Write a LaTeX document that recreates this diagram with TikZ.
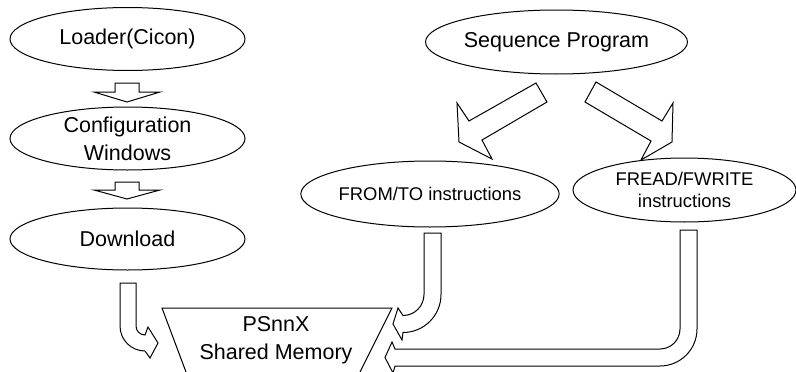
\documentclass[tikz,border=0pt]{standalone}
\usepackage{fontspec}
\setmainfont{Liberation Sans}
\usetikzlibrary{shapes.geometric}
\begin{document}
\begin{tikzpicture}[x=1pt,y=-1pt,
  ell/.style={draw=black, line width=1pt, ellipse, inner sep=0pt, align=center},
  big/.style={font=\fontsize{21.5}{28}\selectfont},
  small/.style={font=\fontsize{18.4}{22}\selectfont},
  blockarrow/.style={draw=black, line width=1pt, fill=white, line join=miter}]
\useasboundingbox (0,0) rectangle (796,372);
\clip (0,0) rectangle (796,372);
\fill[white] (0,0) rectangle (796,372);

% left column
\node[ell,big,minimum width=235pt,minimum height=63pt] (loader) at (127.5,39) {Loader(Cicon)};
\node[ell,big,minimum width=235pt,minimum height=63pt] (config) at (127.5,138.5) {Configuration\\Windows};
\node[ell,big,minimum width=235pt,minimum height=62pt] (download) at (127.5,239) {Download};

% right part
\node[ell,big,minimum width=233pt,minimum height=64pt] (seq) at (556.5,42) {Sequence Program};
\node[ell,small,minimum width=220pt,minimum height=66pt] (fromto) at (430,194) {FROM/TO instructions};
\node[ell,small,minimum width=223pt,minimum height=64pt] (fread) at (684.5,190) {FREAD/FWRITE\\instructions};

% shared memory trapezoid
\coordinate (tl) at (162,308);
\coordinate (tr) at (392,308);
\coordinate (bl) at (186,372);
\coordinate (br) at (360,372);
\draw[line width=1pt] (bl) -- (tl) -- (tr) -- (br);
\node[big,align=center,inner sep=0pt] (mem) at (276,340) {PSnnX\\Shared Memory};

% small down arrows between left ellipses
\draw[blockarrow] (115,83) -- (139,83) -- (139,92) -- (160,92) -- (127,102) -- (94,92) -- (115,92) -- cycle;
\draw[blockarrow] (115,182) -- (139,182) -- (139,190) -- (160,190) -- (127,199) -- (94,190) -- (115,190) -- cycle;

% diagonal arrows from Sequence Program
\draw[blockarrow] (536,83) -- (547,102) -- (482,140) -- (492,159) -- (459,142) -- (457,103) -- (469,121) -- cycle;
\draw[blockarrow] (596,82) -- (585,102) -- (651,141) -- (641,160) -- (672,142) -- (673,103) -- (662,121) -- cycle;

% Download -> memory
\draw[blockarrow] (120,283) -- (136,283) -- (136,326)
  .. controls (136,331) and (140,335) .. (145,335) -- (148,327) -- (158,343) -- (150,358) -- (145,351)
  .. controls (131.2,351) and (120,339.8) .. (120,326) -- cycle;

% FROM/TO -> memory
\draw[blockarrow] (424,233) -- (441,233) -- (441,294.5)
  .. controls (441,315.5) and (424,332.5) .. (403,332.5) -- (402,340) -- (393,324) -- (398,308) -- (403,315.5)
  .. controls (414.6,315.5) and (424,306.1) .. (424,294.5) -- cycle;

% FREAD/FWRITE -> memory
\draw[blockarrow] (680,230) -- (697,230) -- (697,329)
  .. controls (697,349.4) and (680.4,366) .. (660,366) -- (395,366) -- (393,373) -- (385,357.5) -- (392,342) -- (395,349) -- (660,349)
  .. controls (671,349) and (680,340) .. (680,329) -- cycle;
\end{tikzpicture}
\end{document}
